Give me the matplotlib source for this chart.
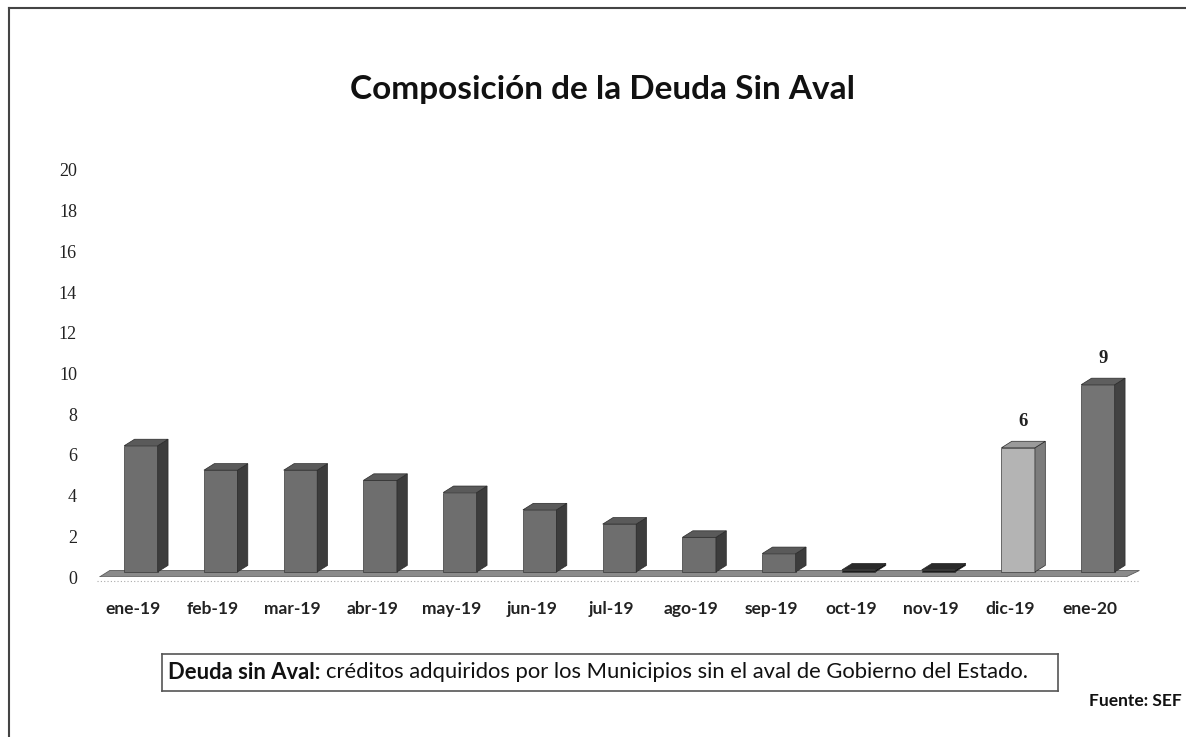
import matplotlib
matplotlib.use("Agg")
import matplotlib.pyplot as plt
from matplotlib.patches import Polygon
from matplotlib.lines import Line2D

# ---- data ----
categories = ["ene-19", "feb-19", "mar-19", "abr-19", "may-19", "jun-19", "jul-19",
              "ago-19", "sep-19", "oct-19", "nov-19", "dic-19", "ene-20"]
values = [6.2, 5.0, 5.0, 4.5, 3.9, 3.05, 2.35, 1.7, 0.9, 0.1, 0.1, 6.1, 9.2]
labeled = {"dic-19": "6", "ene-20": "9"}
y_ticks = [0, 2, 4, 6, 8, 10, 12, 14, 16, 18, 20]

# ---- styles ----
front_cols = ["#6e6e6e"] * 9 + ["#1e1e1e", "#1e1e1e", "#b4b4b4", "#747474"]
side_cols = ["#3c3c3c"] * 9 + ["#0e0e0e", "#0e0e0e", "#7c7c7c", "#424242"]
top_cols = ["#5a5a5a"] * 9 + ["#2a2a2a", "#2a2a2a", "#9a9a9a", "#5e5e5e"]

W, H = 1186, 737
fig = plt.figure(figsize=(W / 100, H / 100), dpi=100)
fig.patch.set_facecolor("white")

def px2fig(x0, y0, x1, y1):
    return [x0 / W, 1 - y1 / H, (x1 - x0) / W, (y1 - y0) / H]

ax = fig.add_axes(px2fig(95, 170, 1145, 577))
ax.set_xlim(-0.476, 12.69)
ax.set_ylim(0, 20)
for s in ax.spines.values():
    s.set_visible(False)

base = 0.25
dx, dy = 0.13, 0.32
offset = 0.1
bw = 0.42

# floor slab
ax.add_patch(Polygon([(-0.42, 0.0), (12.45, 0.0), (12.62, dy), (-0.29, dy)],
                     closed=True, facecolor="#8a8a8a", edgecolor="#5a5a5a", lw=0.6, zorder=1))
ax.add_patch(Polygon([(-0.42, 0.0), (12.45, 0.0), (12.45, -0.1), (-0.42, -0.1)],
                     closed=True, facecolor="#6a6a6a", edgecolor="none", zorder=1))
ax.plot([-0.45, 12.6], [-0.2, -0.2], ls=(0, (1, 2)), color="#aaaaaa", lw=0.8, zorder=1,
        clip_on=False)

xs = [i + offset for i in range(len(categories))]
bars = ax.bar(xs, values, width=bw, bottom=base, color=front_cols, edgecolor="#3a3a3a",
              linewidth=0.5, zorder=3)
for rect, sc, tc in zip(bars, side_cols, top_cols):
    x0 = rect.get_x()
    x1 = x0 + rect.get_width()
    y0 = rect.get_y()
    y1 = y0 + rect.get_height()
    ax.add_patch(Polygon([(x1, y0), (x1 + dx, y0 + dy), (x1 + dx, y1 + dy), (x1, y1)],
                         closed=True, facecolor=sc, edgecolor="#2a2a2a", lw=0.5, zorder=3))
    ax.add_patch(Polygon([(x0, y1), (x1, y1), (x1 + dx, y1 + dy), (x0 + dx, y1 + dy)],
                         closed=True, facecolor=tc, edgecolor="#2a2a2a", lw=0.5, zorder=3))

for rect, cat in zip(bars, categories):
    if cat in labeled:
        ax.text(rect.get_x() + rect.get_width() / 2 + dx / 2,
                rect.get_y() + rect.get_height() + dy + 0.55, labeled[cat],
                ha="center", va="bottom", fontsize=13.5, fontweight="bold",
                family="Liberation Serif", color="#222222")

ax.set_yticks(y_ticks)
ax.set_yticklabels([str(t) for t in y_ticks], family="Liberation Serif", fontsize=13,
                   color="#222222")
ax.tick_params(axis="y", length=0, pad=13)
ax.set_xticks(range(len(categories)))
ax.set_xticklabels(categories, family="Lato", fontweight="bold", fontsize=12.5, color="#222222")
ax.tick_params(axis="x", length=0, pad=17)

# title
fig.text(603 / W, 1 - 89 / H, "Composición de la Deuda Sin Aval", ha="center", va="center",
         family="Lato", fontweight="bold", fontsize=24, color="#111111")

# caption box
cap_ax = fig.add_axes(px2fig(162, 654, 1058, 691))
cap_ax.set_xlim(0, 1)
cap_ax.set_ylim(0, 1)
cap_ax.set_xticks([])
cap_ax.set_yticks([])
for s in cap_ax.spines.values():
    s.set_color("#555555")
    s.set_linewidth(1.2)
t1 = cap_ax.text(0.007, 0.5, "Deuda sin Aval:", ha="left", va="center", family="Lato",
                 fontweight="bold", fontsize=15.8, color="#111111")
fig.canvas.draw()
bb = t1.get_window_extent()
inv = cap_ax.transAxes.inverted()
xend = inv.transform((bb.x1, bb.y0))[0]
cap_ax.text(xend + 0.006, 0.5, "créditos adquiridos por los Municipios sin el aval de Gobierno del Estado.",
            ha="left", va="center", family="Lato", fontsize=15.8, color="#111111")

fig.text(1182 / W, 1 - 701 / H, "Fuente: SEF", ha="right", va="center", family="Lato",
         fontweight="bold", fontsize=12.5, color="#111111")

# page border
fig.add_artist(Line2D([9 / W, 9 / W], [0, 1 - 8 / H], transform=fig.transFigure,
                      color="#444444", lw=1.5))
fig.add_artist(Line2D([9 / W, 1], [1 - 8 / H, 1 - 8 / H], transform=fig.transFigure,
                      color="#444444", lw=1.5))

fig.savefig("out.png", dpi=100)
